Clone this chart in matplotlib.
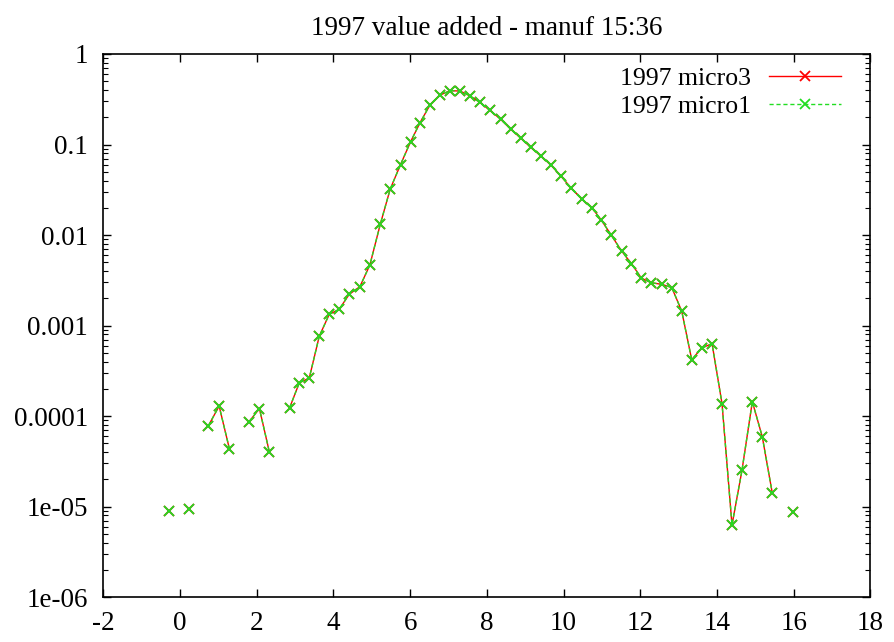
import numpy as np
import matplotlib
matplotlib.use("Agg")
import matplotlib.pyplot as plt
from matplotlib.ticker import LogLocator, NullFormatter

plt.rcParams['font.family'] = ['Liberation Serif', 'DejaVu Serif']
plt.rcParams['axes.unicode_minus'] = False

title = "1997 value added - manuf 15:36"
series_names = ["1997 micro3", "1997 micro1"]

x_vals = [-0.29, -0.03, 0.23, 0.48, 0.74, 1.02, 1.29, 1.54, 1.80, 2.07,
          2.33, 2.60, 2.86, 3.11, 3.37, 3.63, 3.89, 4.15, 4.41, 4.69,
          4.95, 5.22, 5.48, 5.75, 6.01, 6.26, 6.52, 6.78, 7.04, 7.30,
          7.56, 7.82, 8.08, 8.36, 8.62, 8.88, 9.14, 9.41, 9.67, 9.93,
          10.20, 10.47, 10.74, 10.98, 11.24, 11.51, 11.77, 12.03, 12.29, 12.56,
          12.82, 13.08, 13.34, 13.60, 13.87, 14.13, 14.39, 14.65, 14.92, 15.18,
          15.44, 15.71, 15.97]

nan = float('nan')
micro3 = [8.9e-6, nan, 9.3e-6, nan, 7.8e-5, 1.29e-4, 4.3e-5, nan, 8.65e-5, 1.21e-4,
          4.0e-5, nan, 1.24e-4, 2.33e-4, 2.63e-4, 7.6e-4, 1.33e-3, 1.51e-3, 2.21e-3, 2.69e-3,
          4.67e-3, 0.0131, 0.0322, 0.0601, 0.107, 0.175, 0.275, 0.352, 0.393, 0.390,
          0.344, 0.292, 0.238, 0.190, 0.148, 0.118, 0.0931, 0.0746, 0.0593, 0.0449,
          0.0328, 0.0251, 0.0199, 0.0147, 0.0100, 0.00668, 0.00482, 0.00333, 0.00297, 0.00285,
          0.00263, 0.00144, 4.19e-4, 5.64e-4, 6.31e-4, 1.37e-4, 6.25e-6, 2.51e-5, 1.44e-4, 5.9e-5,
          1.41e-5, nan, 8.7e-6]

micro1 = [8.9e-6, nan, 9.3e-6, nan, 7.8e-5, 1.29e-4, 4.3e-5, nan, 8.65e-5, 1.21e-4,
          4.0e-5, nan, 1.24e-4, 2.33e-4, 2.63e-4, 7.6e-4, 1.33e-3, 1.51e-3, 2.21e-3, 2.69e-3,
          4.67e-3, 0.0131, 0.0322, 0.0601, 0.107, 0.175, 0.275, 0.352, 0.393, 0.390,
          0.344, 0.292, 0.238, 0.190, 0.148, 0.118, 0.0931, 0.0746, 0.0593, 0.0449,
          0.0328, 0.0251, 0.0199, 0.0147, 0.0100, 0.00668, 0.00482, 0.00333, 0.00297, 0.00285,
          0.00263, 0.00144, 4.19e-4, 5.64e-4, 6.31e-4, 1.37e-4, 6.25e-6, 2.51e-5, 1.44e-4, 5.9e-5,
          1.41e-5, nan, 8.7e-6]

x_ticks = [-2, 0, 2, 4, 6, 8, 10, 12, 14, 16, 18]
x_tick_labels = ["-2", "0", "2", "4", "6", "8", "10", "12", "14", "16", "18"]
y_ticks = [1e-6, 1e-5, 1e-4, 1e-3, 1e-2, 1e-1, 1]
y_tick_labels = ["1e-06", "1e-05", "0.0001", "0.001", "0.01", "0.1", "1"]

fig = plt.figure(figsize=(8.95, 6.42), dpi=100)
ax = fig.add_axes([0.1154, 0.070, 0.9726 - 0.1154, 0.9159 - 0.070])

ax.plot(x_vals, micro3, color='#ff0000', linestyle='-', linewidth=1.0,
        marker='x', markersize=7, markeredgewidth=1.3, label=series_names[0])
ax.plot(x_vals, micro1, color='#22dd22', linestyle=(0, (3, 2)), linewidth=1.0,
        marker='x', markersize=7, markeredgewidth=1.3, label=series_names[1])

ax.set_yscale('log')
ax.set_xlim(-2, 18)
ax.set_ylim(1e-6, 1)
ax.set_xticks(x_ticks)
ax.set_xticklabels(x_tick_labels)
ax.set_yticks(y_ticks)
ax.set_yticklabels(y_tick_labels)
ax.yaxis.set_minor_locator(LogLocator(base=10, subs=np.arange(2, 10)))
ax.yaxis.set_minor_formatter(NullFormatter())

ax.tick_params(axis='both', which='major', direction='in', length=6, width=1,
               top=True, right=True, labelsize=19.5)
ax.tick_params(axis='y', which='major', pad=11)
ax.tick_params(axis='x', which='major', pad=10)
ax.tick_params(axis='y', which='minor', direction='in', length=3.5, width=0.8,
               right=True)
for s in ax.spines.values():
    s.set_linewidth(1.2)

ax.set_title(title, fontsize=19.5, pad=14)

leg = ax.legend(loc='upper right', frameon=False, markerfirst=False,
                fontsize=18.5, handlelength=2.8, borderpad=0.0,
                borderaxespad=0.0, labelspacing=0.2, handletextpad=0.7,
                bbox_to_anchor=(841 / 895, 1 - 67 / 642),
                bbox_transform=fig.transFigure)

fig.savefig("out.png", dpi=100)
